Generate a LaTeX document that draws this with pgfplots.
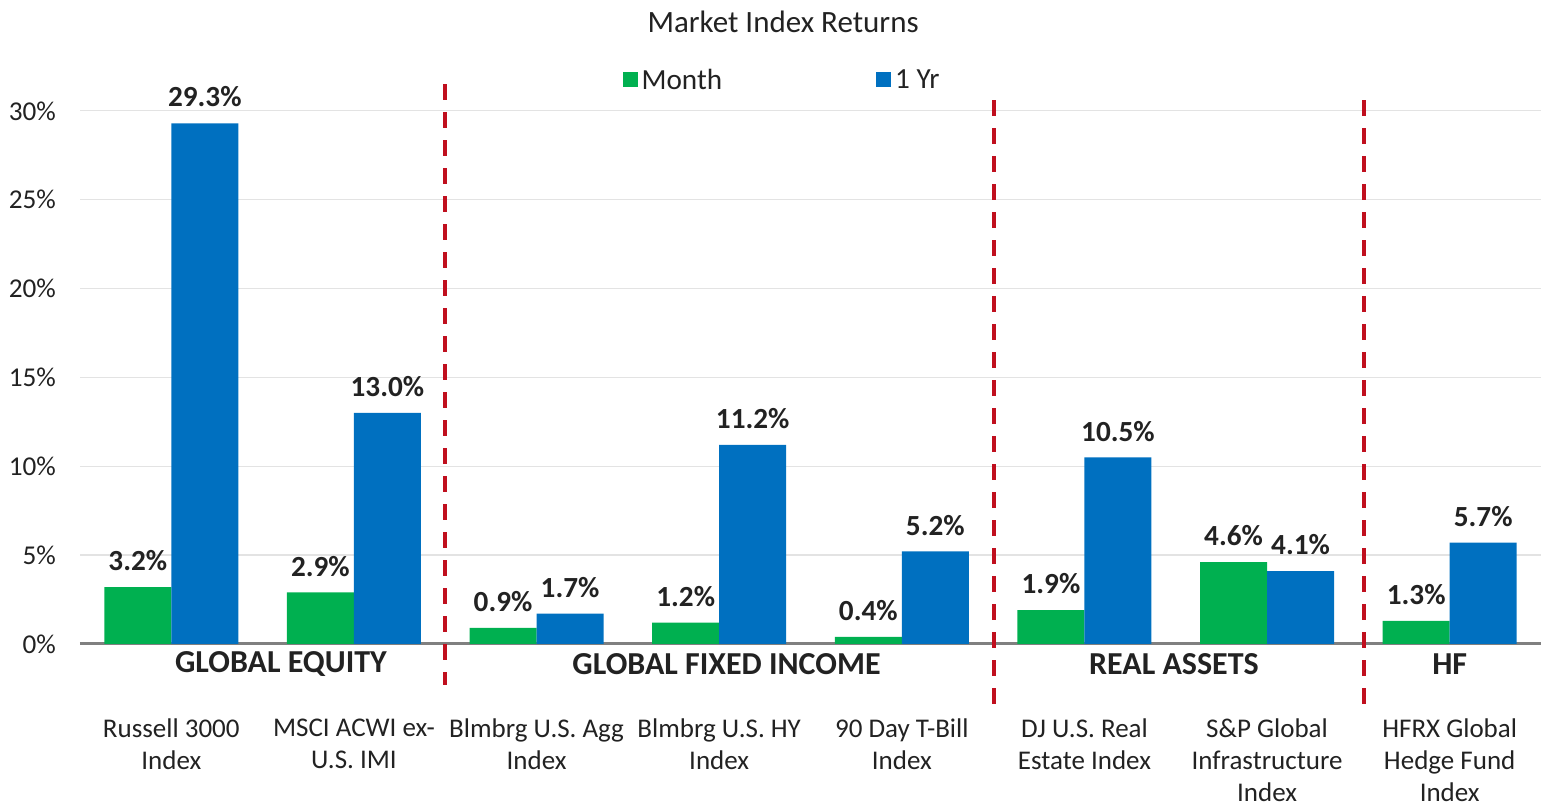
\documentclass[border=0pt]{standalone}
\usepackage{pgfplots}
\pgfplotsset{compat=1.18}
\usepackage{fontspec}
\setmainfont{Carlito}
\definecolor{mgreen}{HTML}{00B050}
\definecolor{mblue}{HTML}{0070C0}
\definecolor{dred}{HTML}{C00F1E}
\definecolor{txt}{HTML}{222222}
\begin{document}
\begin{tikzpicture}
\begin{axis}[
  width=730.5pt, height=266.5pt, scale only axis,
  xmin=-0.5, xmax=7.5, ymin=0, ymax=30,
  ybar=0pt, bar width=33.5pt,
  clip=false,
  axis x line*=bottom, axis y line*=left,
  y axis line style={draw=none},
  x axis line style={draw=black!50, line width=1.6pt},
  major tick length=0pt,
  ymajorgrids, grid style={draw=black!11, line width=0.6pt},
  ytick={0,5,10,15,20,25,30},
  yticklabels={0\%,5\%,10\%,15\%,20\%,25\%,30\%},
  yticklabel style={font=\fontsize{13.6}{15}\selectfont, text=txt, xshift=-8.5pt},
  xtick={0,1,2,3,4,5,6,7},
  xticklabels={{Russell 3000\\Index},{MSCI ACWI ex-\\U.S. IMI},{Blmbrg U.S. Agg\\Index},{Blmbrg U.S. HY\\Index},{90 Day T-Bill\\Index},{DJ U.S. Real\\Estate Index},{S\&P Global\\Infrastructure\\Index},{HFRX Global\\Hedge Fund\\Index}},
  xticklabel style={font=\fontsize{13.5}{16}\selectfont, text=txt, align=center, anchor=north, yshift=-34pt},
  nodes near coords={\pgfmathprintnumber[fixed,fixed zerofill,precision=1,assume math mode=true]{\pgfplotspointmeta}\%},
  every node near coord/.append style={font=\bfseries\fontsize{14.6}{16}\selectfont, text=txt, anchor=south, yshift=4.5pt},
  legend columns=2,
  legend style={at={(axis cs:3.35,31.7)}, anchor=center, draw=none, fill=none,
    font=\fontsize{14.6}{16}\selectfont, text=txt,
    /tikz/every even column/.append style={column sep=75pt}},
  legend image code/.code={\fill[#1,draw=none] (-3pt,-3.2pt) rectangle (4.5pt,4.3pt);},
]
\addplot[fill=mgreen, draw=none] coordinates {(0,3.2) (1,2.9) (2,0.9) (3,1.2) (4,0.4) (5,1.9) (6,4.6) (7,1.3)};
\addlegendentry{Month}
\addplot[fill=mblue, draw=none] coordinates {(0,29.3) (1,13.0) (2,1.7) (3,11.2) (4,5.2) (5,10.5) (6,4.1) (7,5.7)};
\addlegendentry{1 Yr}

\draw[dred, line width=2pt, dash pattern=on 8pt off 6pt] (axis cs:1.5,31.5) -- (axis cs:1.5,-2.3);
\draw[dred, line width=2pt, dash pattern=on 8pt off 6pt] (axis cs:4.505,30.6) -- (axis cs:4.505,-3.6);
\draw[dred, line width=2pt, dash pattern=on 8pt off 6pt] (axis cs:6.53,30.6) -- (axis cs:6.53,-3.6);

\node[font=\bfseries\fontsize{16}{18}\selectfont, text=txt] at (axis cs:0.60,-1.15) {GLOBAL EQUITY};
\node[font=\bfseries\fontsize{16}{18}\selectfont, text=txt] at (axis cs:3.04,-1.15) {GLOBAL FIXED INCOME};
\node[font=\bfseries\fontsize{16}{18}\selectfont, text=txt] at (axis cs:5.49,-1.15) {REAL ASSETS};
\node[font=\bfseries\fontsize{16}{18}\selectfont, text=txt] at (axis cs:7.0,-1.15) {HF};

\node[font=\fontsize{15.5}{17}\selectfont, text=txt] at (axis cs:3.35,35.0) {Market Index Returns};

\coordinate (bl) at (axis cs:-0.938,-8.95);
\coordinate (tr) at (axis cs:7.5,36.24);
\end{axis}
\pgfresetboundingbox
\path[use as bounding box] (bl) rectangle (tr);
\end{tikzpicture}
\end{document}
